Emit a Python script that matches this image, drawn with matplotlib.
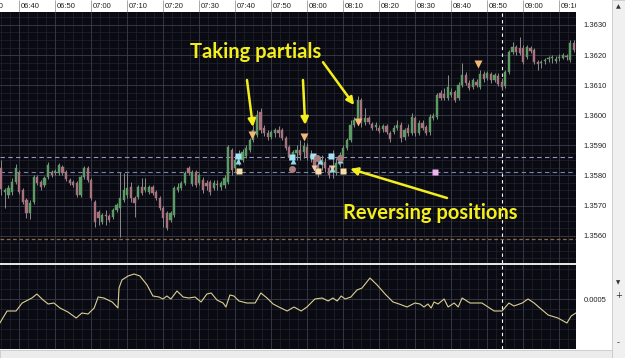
import numpy as np
import matplotlib.pyplot as plt
from matplotlib.patches import Rectangle

# barras de 1 minuto, x = minutos depois de 06:35
opens = [1.35825, 1.35745, 1.35735, 1.35745, 1.35778, 1.35808, 1.35752, 1.35719, 1.35675, 1.35712,
         1.35795, 1.35778, 1.35768, 1.35795, 1.35812, 1.35808, 1.35808, 1.35828, 1.35812, 1.35785,
         1.35778, 1.35775, 1.35735, 1.35795, 1.35825, 1.35785, 1.35712, 1.35679, 1.35645, 1.35665,
         1.35665, 1.35662, 1.35685, 1.35692, 1.35719, 1.35735, 1.35762, 1.35725, 1.35729, 1.35762,
         1.35752, 1.35745, 1.35762, 1.35745, 1.35725, 1.35692, 1.35675, 1.35652, 1.35669, 1.35752,
         1.35758, 1.35775, 1.35825, 1.35772, 1.35812, 1.35775, 1.35785, 1.35775, 1.35778, 1.35758,
         1.35768, 1.35762, 1.35768, 1.35778, 1.35885, 1.35825, 1.35851, 1.35851, 1.35865, 1.35885,
         1.35918, 1.35935, 1.36011, 1.35958, 1.35941, 1.35928, 1.35941, 1.35951, 1.35951, 1.35925,
         1.35895, 1.35861, 1.35875, 1.35885, 1.35878, 1.35895, 1.35868, 1.35858, 1.35835, 1.35835,
         1.35845, 1.35825, 1.35818, 1.35812, 1.35835, 1.35865, 1.35891, 1.35918, 1.35968, 1.35978,
         1.36051, 1.35978, 1.35991, 1.35971, 1.35961, 1.35958, 1.35954, 1.35964, 1.35941, 1.35944,
         1.35958, 1.35968, 1.35928, 1.35958, 1.35941, 1.35991, 1.35941, 1.35974, 1.35961, 1.35944,
         1.35991, 1.35994, 1.36074, 1.36071, 1.36057, 1.36067, 1.36077, 1.36057, 1.36101, 1.36134,
         1.36107, 1.36094, 1.36111, 1.36094, 1.36137, 1.36124, 1.36137, 1.36117, 1.36131, 1.36111,
         1.36097, 1.36144, 1.36210, 1.36227, 1.36224, 1.36224, 1.36194, 1.36224, 1.36217, 1.36177,
         1.36174, 1.36180, 1.36187, 1.36190, 1.36180, 1.36190, 1.36190, 1.36197, 1.36184, 1.36240]
highs = [1.35851, 1.35758, 1.35768, 1.35792, 1.35838, 1.35818, 1.35758, 1.35725, 1.35719, 1.35802,
         1.35802, 1.35785, 1.35798, 1.35845, 1.35818, 1.35822, 1.35841, 1.35835, 1.35818, 1.35792,
         1.35785, 1.35782, 1.35802, 1.35832, 1.35832, 1.35792, 1.35719, 1.35685, 1.35675, 1.35685,
         1.35672, 1.35692, 1.35709, 1.35812, 1.35808, 1.35808, 1.35778, 1.35732, 1.35768, 1.35792,
         1.35792, 1.35768, 1.35768, 1.35752, 1.35732, 1.35699, 1.35682, 1.35682, 1.35765, 1.35775,
         1.35782, 1.35815, 1.35832, 1.35818, 1.35818, 1.35808, 1.35795, 1.35785, 1.35785, 1.35785,
         1.35785, 1.35782, 1.35802, 1.35901, 1.35891, 1.35868, 1.35885, 1.35888, 1.35901, 1.35925,
         1.35968, 1.36018, 1.36024, 1.35968, 1.35951, 1.35951, 1.35958, 1.35964, 1.35958, 1.35931,
         1.35901, 1.35885, 1.35901, 1.35918, 1.35911, 1.35908, 1.35885, 1.35868, 1.35858, 1.35868,
         1.35858, 1.35835, 1.35885, 1.35858, 1.35878, 1.35901, 1.35925, 1.35984, 1.35994, 1.36064,
         1.36057, 1.36024, 1.35998, 1.35978, 1.35978, 1.35968, 1.35971, 1.35971, 1.35948, 1.35968,
         1.35984, 1.35978, 1.35958, 1.35971, 1.36008, 1.35998, 1.35984, 1.35984, 1.35968, 1.36004,
         1.36008, 1.36074, 1.36084, 1.36091, 1.36134, 1.36091, 1.36084, 1.36111, 1.36174, 1.36144,
         1.36117, 1.36124, 1.36121, 1.36150, 1.36147, 1.36147, 1.36144, 1.36140, 1.36140, 1.36124,
         1.36150, 1.36217, 1.36243, 1.36233, 1.36260, 1.36233, 1.36233, 1.36230, 1.36224, 1.36184,
         1.36184, 1.36190, 1.36197, 1.36200, 1.36197, 1.36204, 1.36207, 1.36204, 1.36250, 1.36250]
lows = [1.35735, 1.35692, 1.35725, 1.35735, 1.35772, 1.35739, 1.35705, 1.35659, 1.35655, 1.35705,
        1.35768, 1.35752, 1.35762, 1.35788, 1.35795, 1.35802, 1.35802, 1.35802, 1.35782, 1.35768,
        1.35762, 1.35729, 1.35729, 1.35788, 1.35778, 1.35719, 1.35629, 1.35635, 1.35639, 1.35635,
        1.35645, 1.35655, 1.35679, 1.35596, 1.35712, 1.35725, 1.35712, 1.35662, 1.35722, 1.35735,
        1.35745, 1.35739, 1.35735, 1.35719, 1.35685, 1.35629, 1.35619, 1.35645, 1.35662, 1.35745,
        1.35752, 1.35768, 1.35802, 1.35765, 1.35762, 1.35768, 1.35742, 1.35752, 1.35735, 1.35752,
        1.35752, 1.35752, 1.35758, 1.35772, 1.35802, 1.35812, 1.35835, 1.35845, 1.35858, 1.35878,
        1.35911, 1.35928, 1.35941, 1.35931, 1.35918, 1.35921, 1.35928, 1.35928, 1.35918, 1.35885,
        1.35851, 1.35845, 1.35851, 1.35851, 1.35858, 1.35851, 1.35845, 1.35812, 1.35795, 1.35818,
        1.35812, 1.35792, 1.35792, 1.35802, 1.35828, 1.35858, 1.35885, 1.35911, 1.35961, 1.35971,
        1.35961, 1.35968, 1.35971, 1.35951, 1.35951, 1.35941, 1.35944, 1.35938, 1.35911, 1.35938,
        1.35951, 1.35911, 1.35918, 1.35931, 1.35935, 1.35931, 1.35935, 1.35951, 1.35935, 1.35935,
        1.35984, 1.35988, 1.36051, 1.36051, 1.36051, 1.36061, 1.36044, 1.36051, 1.36094, 1.36101,
        1.36084, 1.36087, 1.36094, 1.36087, 1.36111, 1.36117, 1.36107, 1.36111, 1.36097, 1.36084,
        1.36091, 1.36137, 1.36204, 1.36200, 1.36200, 1.36170, 1.36187, 1.36207, 1.36170, 1.36150,
        1.36157, 1.36170, 1.36177, 1.36174, 1.36174, 1.36180, 1.36187, 1.36184, 1.36177, 1.36210]
closes = [1.35755, 1.35752, 1.35758, 1.35778, 1.35825, 1.35745, 1.35712, 1.35675, 1.35709, 1.35795,
          1.35775, 1.35762, 1.35792, 1.35835, 1.35802, 1.35815, 1.35835, 1.35808, 1.35788, 1.35775,
          1.35768, 1.35735, 1.35795, 1.35825, 1.35785, 1.35725, 1.35645, 1.35659, 1.35669, 1.35664,
          1.35652, 1.35685, 1.35702, 1.35725, 1.35752, 1.35758, 1.35725, 1.35709, 1.35762, 1.35742,
          1.35762, 1.35762, 1.35742, 1.35725, 1.35692, 1.35659, 1.35625, 1.35675, 1.35758, 1.35762,
          1.35775, 1.35808, 1.35808, 1.35812, 1.35768, 1.35802, 1.35752, 1.35765, 1.35745, 1.35775,
          1.35767, 1.35775, 1.35792, 1.35895, 1.35818, 1.35851, 1.35858, 1.35878, 1.35891, 1.35918,
          1.35951, 1.36001, 1.35951, 1.35941, 1.35928, 1.35944, 1.35951, 1.35941, 1.35925, 1.35891,
          1.35861, 1.35878, 1.35885, 1.35868, 1.35898, 1.35861, 1.35858, 1.35825, 1.35818, 1.35851,
          1.35825, 1.35802, 1.35812, 1.35841, 1.35868, 1.35891, 1.35918, 1.35968, 1.35984, 1.36051,
          1.35974, 1.35991, 1.35978, 1.35958, 1.35968, 1.35948, 1.35964, 1.35944, 1.35921, 1.35958,
          1.35968, 1.35925, 1.35951, 1.35941, 1.35994, 1.35941, 1.35974, 1.35958, 1.35941, 1.35994,
          1.35998, 1.36067, 1.36057, 1.36057, 1.36094, 1.36077, 1.36051, 1.36101, 1.36134, 1.36107,
          1.36091, 1.36117, 1.36101, 1.36137, 1.36121, 1.36140, 1.36117, 1.36134, 1.36104, 1.36094,
          1.36144, 1.36210, 1.36227, 1.36210, 1.36207, 1.36177, 1.36227, 1.36214, 1.36177, 1.36170,
          1.36177, 1.36184, 1.36190, 1.36194, 1.36187, 1.36194, 1.36200, 1.36194, 1.36240, 1.36217]

time_ticks = [-5, 5, 15, 25, 35, 45, 55, 65, 75, 85, 95, 105, 115, 125, 135, 145, 155]
time_labels = ["06:30", "06:40", "06:50", "07:00", "07:10", "07:20", "07:30", "07:40", "07:50",
               "08:00", "08:10", "08:20", "08:30", "08:40", "08:50", "09:00", "09:10"]
price_ticks = [1.3560, 1.3570, 1.3580, 1.3590, 1.3600, 1.3610, 1.3620, 1.3630]

# niveis das ordens (linhas tracejadas)
order_levels = [1.35861, 1.35812]
stop_level = 1.35589
now_line = 139.2

# marcadores de execucao
partial_x = [69.6, 84.1, 99.1, 132.4]
partial_y = [1.35935, 1.35928, 1.35978, 1.36170]
cyan_sq_x = [65.8, 80.8, 86.6, 91.6]
cyan_sq_y = [1.35865, 1.35861, 1.35865, 1.35865]
cyan_up_x = [65.8, 81.0, 88.5, 94.1, 91.9]
cyan_up_y = [1.35848, 1.35848, 1.35848, 1.35851, 1.35820]
beige_sq_x = [66.0, 88.0, 94.9]
beige_sq_y = [1.35815, 1.35815, 1.35815]
beige_dn_x = [86.9, 91.9]
beige_dn_y = [1.35825, 1.35825]
circle_x = [80.8, 87.7, 94.1]
circle_y = [1.35822, 1.35858, 1.35858]
pink_x = [120.5]
pink_y = [1.35812]

# indicador (painel de baixo), valores em 0.00001
ind_x = [-0.4, 1.6, 4.1, 5.8, 8.5, 9.9, 11.3, 13.0, 14.6, 16.3, 18.5, 20.8, 22.4, 24.1, 25.8, 26.9,
         28.5, 30.8, 32.4, 32.7, 33.5, 35.2, 36.9, 38.5, 40.5, 42.1, 43.8, 44.9, 46.0, 47.1, 48.8,
         50.5, 52.1, 53.8, 55.5, 57.1, 58.3, 59.9, 61.6, 62.4, 63.5, 64.6, 66.0, 68.2, 70.5, 72.1,
         73.8, 75.5, 77.1, 79.4, 81.3, 83.3, 84.9, 87.1, 89.1, 90.8, 92.1, 93.3, 94.4, 95.5, 97.1,
         98.8, 100.2, 102.4, 104.4, 106.6, 108.8, 110.5, 112.7, 114.9, 116.3, 117.4, 118.5, 119.4,
         120.2, 121.3, 123.0, 124.1, 125.8, 126.9, 128.0, 130.2, 133.5, 136.9, 139.1, 141.0, 142.4,
         144.7, 146.3, 148.0, 149.6, 151.9, 154.6, 157.1, 158.3, 159.6]
ind_val = [26, 38, 38, 46, 51, 55, 50, 45, 46, 41, 37, 31, 36, 35, 41, 52, 51, 47, 41, 61,
           69, 73, 75, 73, 64, 53, 52, 50, 53, 50, 58, 52, 51, 52, 47, 55, 56, 49, 46, 42,
           54, 53, 48, 46, 46, 56, 51, 45, 42, 38, 42, 38, 42, 50, 51, 48, 51, 48, 53, 50,
           52, 59, 61, 71, 64, 55, 47, 45, 42, 46, 45, 42, 45, 41, 47, 45, 50, 42, 46, 42,
           51, 46, 46, 38, 38, 46, 43, 46, 50, 46, 41, 34, 31, 26, 33, 36]

BG = '#0a0a12'
YELLOW = '#f4ee1c'
W, H = 625, 358

fig = plt.figure(figsize=(W / 100, H / 100), dpi=100)
fig.patch.set_facecolor('white')


def caixa(x0, y0, x1, y1):
    # eixo posicionado em pixels (origem no canto de cima)
    return fig.add_axes([x0 / W, 1 - y1 / H, (x1 - x0) / W, (y1 - y0) / H])


def grade(a, xs, ys, xs_min, ys_min):
    for v in xs_min:
        a.axvline(v, color='#23232e', lw=0.5, zorder=0)
    for v in ys_min:
        a.axhline(v, color='#23232e', lw=0.5, zorder=0)
    for v in xs:
        a.axvline(v, color='#3a3a48', lw=0.6, zorder=0)
    for v in ys:
        a.axhline(v, color='#3a3a48', lw=0.6, zorder=0)


xlim = (-0.36, 159.63)
ax = caixa(0, 12, 576, 263)
ax_ind = caixa(0, 265, 576, 349)
ax_top = caixa(0, 0, 576, 12)

for a in (ax, ax_ind):
    a.set_facecolor(BG)
    a.set_xlim(*xlim)
    for s in a.spines.values():
        s.set_visible(False)
    a.set_xticks([])

# painel principal
ax.set_ylim(1.35509, 1.36343)
minor_x = np.arange(-5, 160, 2.5)
minor_y = np.arange(1.3550, 1.3636, 0.00025)
grade(ax, time_ticks, price_ticks, minor_x, minor_y)

x = np.arange(len(opens))
o = np.array(opens)
c = np.array(closes)
cores = np.where(c >= o, '#5c9c64', '#a8717e')
ax.vlines(x, lows, highs, color='#8c8c8c', lw=0.7, zorder=2)
altura = np.where(np.abs(c - o) < 0.00002, 0.00002, c - o)
ax.bar(x, altura, bottom=o, width=0.6, color=cores, edgecolor=cores, lw=0.3, zorder=3)

ax.axhline(order_levels[0], color='#9098c0', lw=0.8, ls=(0, (4, 3)), zorder=1)
ax.axhline(order_levels[1], color='#7484b4', lw=0.8, ls=(0, (4, 3)), zorder=1)
ax.axhline(stop_level, color='#8a6840', lw=0.9, ls=(0, (3, 2)), zorder=1)
ax.axvline(now_line, color='white', lw=0.8, ls=(0, (3, 3)), zorder=1)

ax.plot(partial_x, partial_y, 'v', color='#f2b878', ms=6, mec='none', zorder=5)
ax.plot(cyan_sq_x, cyan_sq_y, 's', color='#a2e4f4', ms=4.5, mec='none', zorder=5)
ax.plot(cyan_up_x, cyan_up_y, '^', color='#8fd8ee', ms=5, mec='none', zorder=5)
ax.plot(beige_sq_x, beige_sq_y, 's', color='#f8dca8', ms=4.5, mec='none', zorder=5)
ax.plot(beige_dn_x, beige_dn_y, 'v', color='#eecaa4', ms=5, mec='none', zorder=5)
ax.plot(circle_x, circle_y, 'o', color='#a87c7c', ms=5, mec='none', zorder=5)
ax.plot(pink_x, pink_y, 's', color='#f0b4f0', ms=4.5, mec='none', zorder=5)

ax.yaxis.tick_right()
ax.set_yticks(price_ticks)
ax.set_yticklabels([f"{p:.4f}" for p in price_ticks])
ax.tick_params(axis='y', length=0, pad=5.5, labelsize=5.5, labelcolor='#222222')
for t in ax.get_yticklabels():
    t.set_family('Liberation Sans')

# setas e textos em amarelo
seta = dict(arrowstyle='-|>', color=YELLOW, lw=1.8, mutation_scale=11, shrinkA=0, shrinkB=0)
ax.annotate('', xy=(69.9, 1.35961), xytext=(0.4288, 0.729), textcoords='axes fraction', arrowprops=seta, zorder=6)
ax.annotate('', xy=(84.4, 1.35968), xytext=(0.526, 0.729), textcoords='axes fraction', arrowprops=seta, zorder=6)
ax.annotate('', xy=(98.0, 1.36034), xytext=(0.5608, 0.8), textcoords='axes fraction', arrowprops=seta, zorder=6)
ax.annotate('', xy=(96.9, 1.35822), xytext=(0.776, 0.259), textcoords='axes fraction', arrowprops=seta, zorder=6)
ax.text(0.444, 0.84, "Taking partials", transform=ax.transAxes, color=YELLOW, fontsize=14.5,
        fontweight='bold', family='Lato', ha='center', va='center', zorder=7)
ax.text(0.7465, 0.2, "Reversing positions", transform=ax.transAxes, color=YELLOW, fontsize=14.5,
        fontweight='bold', family='Lato', ha='center', va='center', zorder=7)

# painel do indicador
ax_ind.set_ylim(0, 0.00084)
grade(ax_ind, time_ticks, [0.0005], minor_x, np.arange(0, 0.00085, 0.0001))
ax_ind.plot(ind_x, np.array(ind_val) * 1e-5, color='#d9cf94', lw=0.8, zorder=3)
ax_ind.axvline(now_line, color='white', lw=0.8, ls=(0, (3, 3)), zorder=2)
ax_ind.yaxis.tick_right()
ax_ind.set_yticks([0.0005])
ax_ind.set_yticklabels(["0.0005"])
ax_ind.tick_params(axis='y', length=0, pad=5.5, labelsize=5.5, labelcolor='#222222')
for t in ax_ind.get_yticklabels():
    t.set_family('Liberation Sans')

# faixa de horarios no topo
ax_top.set_xlim(*xlim)
ax_top.set_ylim(0, 1)
ax_top.axis('off')
ax_top.add_patch(Rectangle((0, 0), 1, 1, transform=ax_top.transAxes, color='white', zorder=0))
for tk, lb in zip(time_ticks, time_labels):
    ax_top.vlines(tk, 0, 1, color='#a8a8a8', lw=0.7)
    ax_top.text(tk + 0.5, 0.5, lb, fontsize=5.5, family='Liberation Sans', color='#222222',
                ha='left', va='center', clip_on=True)

# barra de rolagem, separador e rodape
fig.add_artist(Rectangle((612 / W, 0), 13 / W, 1, transform=fig.transFigure,
                         facecolor='#f0f0f0', edgecolor='#c8c8c8', lw=0.6))
fig.add_artist(Rectangle((0, 0), 612 / W, 8 / H, transform=fig.transFigure,
                         facecolor='#ececec', edgecolor='#c8c8c8', lw=0.6))
fig.add_artist(Rectangle((0, 1 - 265 / H), 576 / W, 2 / H, transform=fig.transFigure,
                         facecolor='#e4e4e4', edgecolor='none'))
fig.text(618.5 / W, 1 - 7 / H, '▲', fontsize=4.5, ha='center', va='center', color='#333333')
fig.text(618.5 / W, 1 - 283 / H, '▼', fontsize=4, ha='center', va='center', color='#333333')
fig.text(618.5 / W, 1 - 296 / H, '+', fontsize=6, ha='center', va='center', color='#333333')
fig.text(618.5 / W, 1 - 343 / H, '-', fontsize=6, ha='center', va='center', color='#333333')

fig.savefig('out.png', dpi=100, facecolor=fig.get_facecolor())
